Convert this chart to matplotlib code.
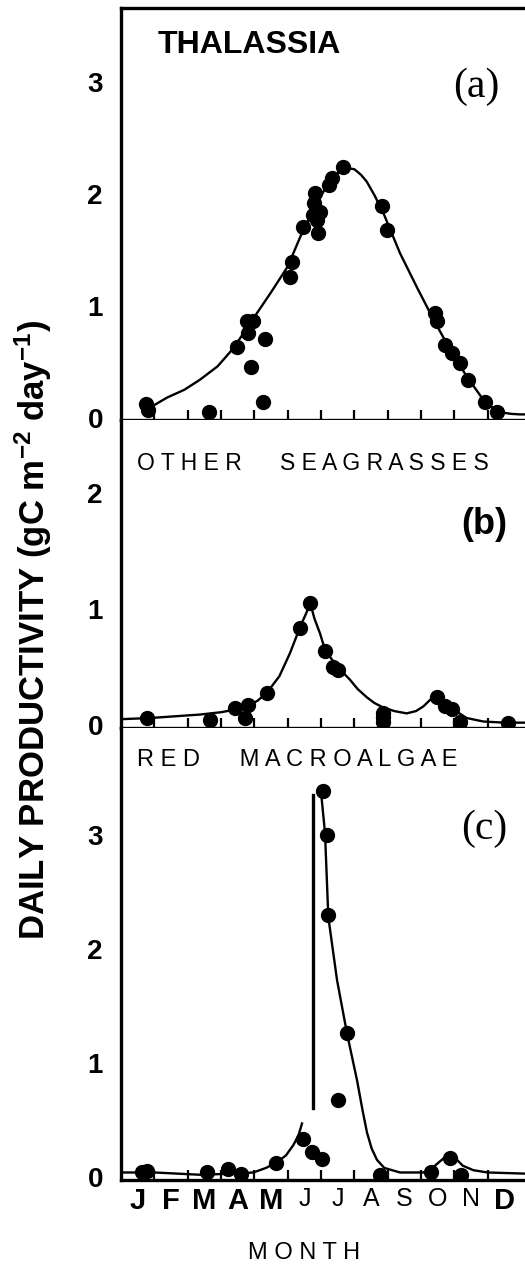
import matplotlib.pyplot as plt

plt.rcParams['font.family'] = ['Liberation Sans', 'DejaVu Sans']
plt.rcParams['mathtext.default'] = 'regular'

# month labels
months = ['J', 'F', 'M', 'A', 'M', 'J', 'J', 'A', 'S', 'O', 'N', 'D']

# (a) Thalassia - measured points
thal_x = [0.75, 0.8, 2.65, 3.49, 3.77, 3.97, 3.82, 3.9, 4.32, 4.27, 5.07, 5.13, 5.47,
          5.83, 5.8, 5.97, 5.88, 5.92, 5.77, 6.23, 6.33, 6.67, 7.83, 7.98, 9.43, 9.48,
          9.73, 9.93, 10.18, 10.42, 10.93, 11.29]
thal_y = [0.12, 0.07, 0.05, 0.63, 0.86, 0.86, 0.76, 0.45, 0.70, 0.14, 1.26, 1.39, 1.70,
          2.01, 1.92, 1.84, 1.77, 1.65, 1.81, 2.08, 2.14, 2.24, 1.89, 1.68, 0.94, 0.86,
          0.65, 0.58, 0.49, 0.34, 0.14, 0.05]
# (a) fitted curve
thal_cx = [0.75, 1.38, 1.9, 2.37, 2.9, 3.37, 4.0, 4.5, 5.0, 5.47, 5.97, 6.2, 6.37, 6.6,
           6.78, 7.0, 7.2, 7.37, 7.6, 7.87, 8.37, 8.87, 9.37, 9.87, 10.37, 10.87, 11.15,
           11.37, 11.7, 11.97, 12.12]
thal_cy = [0.07, 0.18, 0.25, 0.34, 0.46, 0.62, 0.90, 1.12, 1.35, 1.68, 1.97, 2.08, 2.15,
           2.21, 2.23, 2.22, 2.17, 2.11, 1.99, 1.83, 1.47, 1.17, 0.88, 0.61, 0.37, 0.16,
           0.09, 0.05, 0.035, 0.03, 0.03]

# (b) other seagrasses
sg_x = [0.77, 2.67, 3.42, 3.72, 3.82, 4.38, 5.38, 5.68, 6.13, 6.37, 6.52, 7.87, 7.87,
        7.87, 9.48, 9.73, 9.93, 10.18, 11.6]
sg_y = [0.06, 0.04, 0.15, 0.06, 0.17, 0.28, 0.84, 1.05, 0.64, 0.50, 0.47, 0.10, 0.07,
        0.03, 0.24, 0.16, 0.14, 0.03, 0.02]
sg_cx = [0.0, 0.87, 2.37, 3.0, 3.37, 3.78, 4.1, 4.38, 4.75, 5.07, 5.38, 5.55, 5.68,
         5.8, 5.97, 6.13, 6.5, 6.87, 7.1, 7.37, 7.6, 7.87, 8.2, 8.57, 8.85, 9.07, 9.25,
         9.43, 9.6, 9.87, 10.1, 10.37, 10.87, 11.5, 12.12]
sg_cy = [0.05, 0.06, 0.09, 0.11, 0.13, 0.16, 0.21, 0.28, 0.42, 0.62, 0.85, 0.96, 1.05,
         0.92, 0.79, 0.64, 0.50, 0.39, 0.31, 0.24, 0.19, 0.15, 0.12, 0.10, 0.12, 0.16,
         0.21, 0.26, 0.22, 0.17, 0.11, 0.06, 0.03, 0.02, 0.02]

# (c) red macroalgae
red_x = [0.63, 0.78, 2.58, 3.2, 3.6, 4.65, 5.47, 5.72, 6.03, 6.05, 6.18, 6.22, 6.52,
         6.78, 7.77, 9.3, 9.86, 10.2]
red_y = [0.04, 0.05, 0.04, 0.07, 0.03, 0.12, 0.33, 0.22, 0.16, 3.39, 3.0, 2.3, 0.68,
         1.26, 0.02, 0.04, 0.17, 0.02]
red_cx1 = [0.0, 1.0, 2.37, 3.4, 3.97, 4.35, 4.68, 4.95, 5.17, 5.33, 5.43]
red_cy1 = [0.04, 0.04, 0.02, 0.03, 0.04, 0.08, 0.13, 0.19, 0.28, 0.37, 0.47]
red_cx2 = [6.0, 6.12, 6.22, 6.48, 6.78, 7.08, 7.25, 7.38, 7.52, 7.68, 7.9, 8.37, 9.07,
           9.3, 9.5, 9.7, 9.87, 10.05, 10.25, 10.57, 11.0, 12.12]
red_cy2 = [3.38, 3.02, 2.28, 1.73, 1.26, 0.85, 0.58, 0.39, 0.25, 0.15, 0.08, 0.04, 0.04,
           0.07, 0.12, 0.17, 0.19, 0.16, 0.10, 0.06, 0.04, 0.03]
bar_x = 5.77
bar_y = [0.61, 3.35]

W, H = 525, 1267
fig = plt.figure(figsize=(W / 100, H / 100), dpi=100)


def make_axes(top, bottom):
    return fig.add_axes([121 / W, 1 - bottom / H, 404 / W, (bottom - top) / H])


ax_a = make_axes(8, 420)
ax_b = make_axes(420, 728)
ax_c = make_axes(728, 1180)

lims = {ax_a: (-0.02, 3.66), ax_b: (-0.026, 2.63), ax_c: (-0.026, 3.94)}
yt = {ax_a: [0, 1, 2, 3], ax_b: [0, 1, 2], ax_c: [0, 1, 2, 3]}

for ax in (ax_a, ax_b, ax_c):
    ax.set_xlim(0, 12.12)
    ax.set_ylim(*lims[ax])
    for s in ax.spines.values():
        s.set_linewidth(2.4)
    ax.spines['right'].set_visible(False)
    if ax is not ax_a:
        ax.spines['top'].set_visible(False)
    ax.set_xticks(range(1, 12))
    ax.set_xticklabels([])
    ax.tick_params(axis='x', direction='in', length=7, width=1.6, top=False)
    ax.set_yticks(yt[ax])
    ax.set_yticklabels([str(v) for v in yt[ax]], fontsize=20, fontweight='bold')
    ax.tick_params(axis='y', length=0, pad=13)

ax_a.plot(thal_cx, thal_cy, color='black', lw=1.7)
ax_a.plot(thal_x, thal_y, 'o', color='black', ms=10)
ax_b.plot(sg_cx, sg_cy, color='black', lw=1.7)
ax_b.plot(sg_x, sg_y, 'o', color='black', ms=10)
ax_c.plot(red_cx1, red_cy1, color='black', lw=1.7)
ax_c.plot(red_cx2, red_cy2, color='black', lw=1.7)
ax_c.plot(red_x, red_y, 'o', color='black', ms=10)
ax_c.plot([bar_x, bar_x], bar_y, color='black', lw=2.4)

# month labels on the bottom panel
ax_c.set_xticks([m + 0.5 for m in range(12)], minor=True)
ax_c.set_xticklabels(months, minor=True)
ax_c.tick_params(axis='x', which='minor', length=0, pad=5)
for i, lab in enumerate(ax_c.get_xticklabels(minor=True)):
    if i < 5 or i == 11:
        lab.set_fontweight('bold')
        lab.set_fontsize(21)
    else:
        lab.set_fontweight('light')
        lab.set_fontsize(18)

# panel texts
ax_a.text(0.09, 0.91, 'THALASSIA', transform=ax_a.transAxes, fontsize=23,
          fontweight='bold', va='center', ha='left')
ax_a.text(0.88, 0.81, '(a)', transform=ax_a.transAxes, fontsize=30,
          family='Liberation Serif', va='center', ha='center')
ax_b.text(0.04, 0.86, 'O T H E R      S E A G R A S S E S', transform=ax_b.transAxes,
          fontsize=16.5, va='center', ha='left')
ax_b.text(0.9, 0.66, '(b)', transform=ax_b.transAxes, fontsize=26,
          fontweight='bold', va='center', ha='center')
ax_c.text(0.04, 0.93, 'R E D      M A C R O A L G A E', transform=ax_c.transAxes,
          fontsize=17, va='center', ha='left')
ax_c.text(0.9, 0.776, '(c)', transform=ax_c.transAxes, fontsize=30,
          family='Liberation Serif', va='center', ha='center')

fig.text(304 / W, 1 - 1253 / H, 'M O N T H', fontsize=17, ha='center', va='center')
fig.text(33 / W, 1 - 630 / H, 'DAILY PRODUCTIVITY (gC m$^{-2}$ day$^{-1}$)',
         rotation=90, fontsize=25, fontweight='bold', ha='center', va='center')

fig.savefig('out.png', dpi=100)
